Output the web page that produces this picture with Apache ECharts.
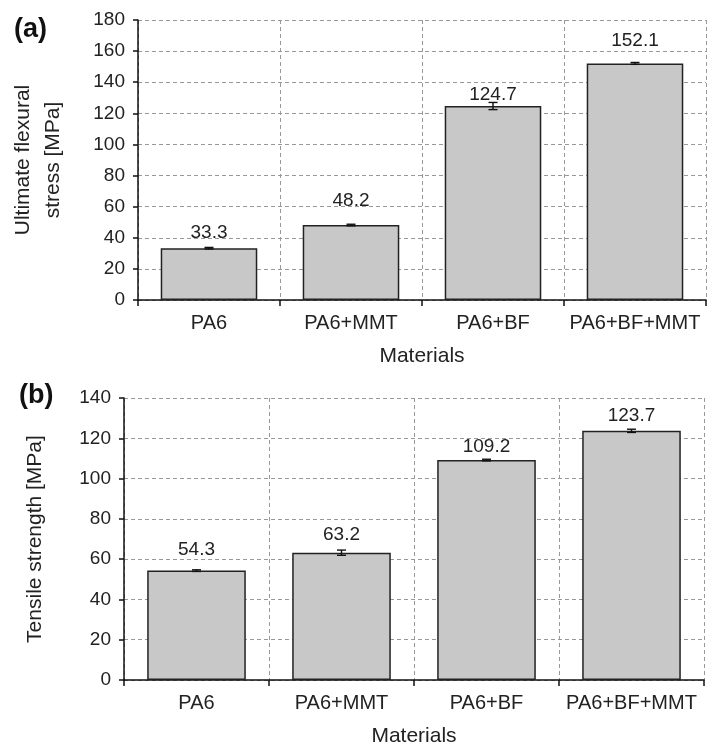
<!DOCTYPE html>
<html><head><meta charset="utf-8">
<script src="https://cdn.jsdelivr.net/npm/echarts@6/dist/echarts.min.js"></script>
<style>html,body{margin:0;padding:0;background:#fff}#c{width:707px;height:749px}</style>
</head><body><div id="c"></div>
<script>
// ---- data ----
const categories = ['PA6', 'PA6+MMT', 'PA6+BF', 'PA6+BF+MMT'];
const flexuralStress = [33.3, 48.2, 124.7, 152.1];
const flexuralError = [0.5, 0.5, 2.3, 0.6];
const tensileStrength = [54.3, 63.2, 109.2, 123.7];
const tensileError = [0.4, 1.3, 0.4, 0.8];
const xTitle = 'Materials';
const flexTitle = 'Ultimate flexural\nstress [MPa]';
const tensTitle = 'Tensile strength [MPa]';

// ---- styling ----
const FONT = 'Liberation Sans, Arial, sans-serif';
const TXT = '#222';
const flexLabelGap = [6, 15, 2, 13];
const tensLabelGap = [11, 8, 4, 6];

const chart = echarts.init(document.getElementById('c'), null, {renderer: 'canvas'});

function xAxisDef(gi) {
  return {
    type: 'category', gridIndex: gi, data: categories, boundaryGap: true,
    axisLine: {show: true, lineStyle: {color: '#111', width: 1.5}},
    axisTick: {show: true, interval: 0, inside: false, length: 6, lineStyle: {color: '#111', width: 1.5}},
    axisLabel: {interval: 0, color: TXT, fontSize: 20, fontFamily: FONT, margin: 13},
    splitLine: {show: true, interval: 0, lineStyle: {color: '#999', type: [4, 3], width: 1}},
    name: xTitle, nameLocation: 'middle', nameGap: 46,
    nameTextStyle: {color: TXT, fontSize: 21, fontFamily: FONT}
  };
}
function yAxisDef(gi, max, name, gap) {
  return {
    type: 'value', gridIndex: gi, min: 0, max: max, interval: 20,
    axisLine: {show: true, lineStyle: {color: '#111', width: 1.5}},
    axisTick: {show: true, inside: false, length: 5, lineStyle: {color: '#111', width: 1.5}},
    axisLabel: {color: TXT, fontSize: 19, fontFamily: FONT, margin: 13},
    splitLine: {show: true, lineStyle: {color: '#999', type: [4, 3], width: 1}},
    name: name, nameLocation: 'middle', nameRotate: 90, nameGap: gap,
    nameTextStyle: {color: TXT, fontSize: 21, fontFamily: FONT, lineHeight: 30, align: 'center'}
  };
}
function barSeries(gi, vals, gaps) {
  return {
    type: 'bar', xAxisIndex: gi, yAxisIndex: gi, barWidth: '68%',
    itemStyle: {color: '#c8c8c8', borderColor: '#222', borderWidth: 1.5},
    data: vals.map((v, i) => ({
      value: v,
      label: {show: true, position: 'top', distance: gaps[i]}
    })),
    label: {color: TXT, fontSize: 19, fontFamily: FONT, formatter: p => p.value.toFixed(1)},
    z: 3
  };
}
function errSeries(gi, vals, errs) {
  return {
    type: 'custom', xAxisIndex: gi, yAxisIndex: gi, z: 5, silent: true,
    data: vals.map((v, i) => [i, v - errs[i], v + errs[i]]),
    renderItem(params, api) {
      const lo = api.coord([api.value(0), api.value(1)]);
      const hi = api.coord([api.value(0), api.value(2)]);
      const w = 4.5;
      const st = {stroke: '#111', lineWidth: 1.4};
      return {type: 'group', children: [
        {type: 'line', shape: {x1: lo[0], y1: lo[1], x2: hi[0], y2: hi[1]}, style: st},
        {type: 'line', shape: {x1: lo[0] - w, y1: lo[1], x2: lo[0] + w, y2: lo[1]}, style: st},
        {type: 'line', shape: {x1: hi[0] - w, y1: hi[1], x2: hi[0] + w, y2: hi[1]}, style: st}
      ]};
    }
  };
}

chart.setOption({
  animation: false,
  backgroundColor: '#fff',
  grid: [
    {left: 133, top: 20, width: 573, height: 280},
    {left: 124, top: 398, width: 580, height: 282}
  ],
  xAxis: [xAxisDef(0), xAxisDef(1)],
  yAxis: [yAxisDef(0, 180, flexTitle, 70), yAxisDef(1, 140, tensTitle, 74)],
  series: [
    barSeries(0, flexuralStress, flexLabelGap),
    errSeries(0, flexuralStress, flexuralError),
    barSeries(1, tensileStrength, tensLabelGap),
    errSeries(1, tensileStrength, tensileError)
  ],
  graphic: [
    {type: 'text', left: 14, top: 16, style: {text: '(a)', font: 'bold 27px ' + FONT, fill: '#111'}},
    {type: 'text', left: 19, top: 382, style: {text: '(b)', font: 'bold 27px ' + FONT, fill: '#111'}}
  ]
});
</script>
</body></html>
